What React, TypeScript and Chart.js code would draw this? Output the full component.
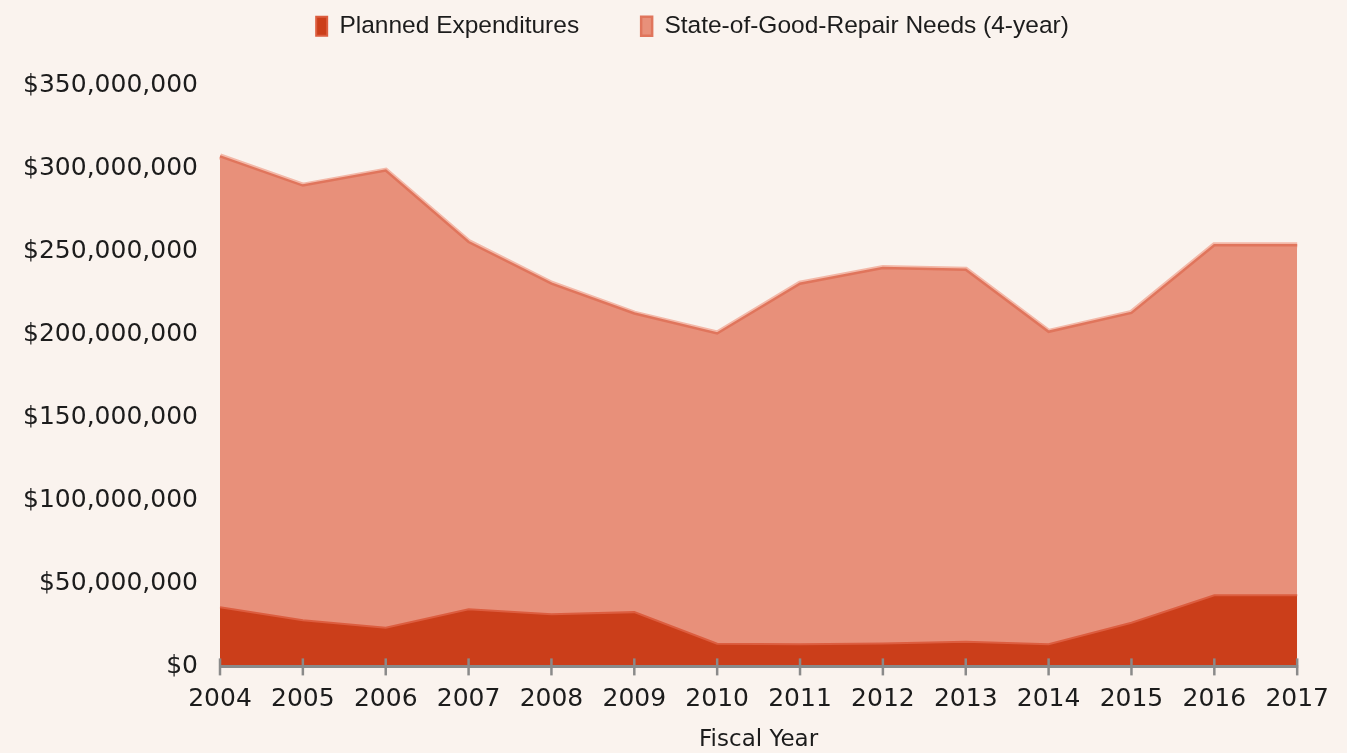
import React, { useEffect, useRef } from "react";
import { Chart, registerables } from "chart.js";

Chart.register(...registerables);

const years = ["2004", "2005", "2006", "2007", "2008", "2009", "2010", "2011", "2012", "2013", "2014", "2015", "2016", "2017"];
const plannedExpenditures = [35.7, 27.8, 23.3, 34.4, 31.4, 32.7, 13.7, 13.3, 13.8, 14.9, 13.3, 26.3, 42.8, 42.8].map((v) => v * 1e6);
const sogrNeeds = [307.3, 289.7, 298.7, 255.7, 230.6, 212.6, 200.6, 230.6, 240.0, 239.0, 201.6, 213.0, 253.7, 253.7].map((v) => v * 1e6);
const yTickMax = 350000000;
const yTickStep = 50000000;

const BG = "#faf3ee";
const TEXT = "#1c1c1c";

const axisPlugin = {
  id: "axisTicks",
  afterLayout(chart: any) {
    // shift the legend's box so it is centred like the original
    if (chart.legend) chart.legend.left = 80;
  },
  afterDatasetsDraw(chart: any) {
    const ctx = chart.ctx;
    const xs = chart.scales.x;
    const area = chart.chartArea;
    const y = area.bottom;
    ctx.save();
    ctx.strokeStyle = "#8a8a8a";
    ctx.lineWidth = 3;
    ctx.beginPath();
    ctx.moveTo(area.left, y);
    ctx.lineTo(area.right + 1, y);
    ctx.stroke();
    ctx.lineWidth = 2.5;
    xs.ticks.forEach((_t: any, i: number) => {
      const px = xs.getPixelForTick(i);
      ctx.beginPath();
      ctx.moveTo(px, y - 8);
      ctx.lineTo(px, y + 9);
      ctx.stroke();
    });
    ctx.restore();
  },
};

export default function App() {
  const ref = useRef<HTMLCanvasElement | null>(null);
  useEffect(() => {
    if (!ref.current) return;
    const chart = new Chart(ref.current, {
      type: "line",
      data: {
        labels: years,
        datasets: [
          {
            label: "Planned Expenditures",
            data: plannedExpenditures,
            backgroundColor: "#cb3e1a",
            borderColor: "#dc5d3f",
            borderWidth: 2,
            fill: "origin",
            pointRadius: 0,
            tension: 0,
          },
          {
            label: "State-of-Good-Repair Needs (4-year)",
            data: sogrNeeds,
            backgroundColor: "#e8907a",
            borderColor: "#e0755c",
            borderWidth: 2.5,
            fill: "origin",
            pointRadius: 0,
            tension: 0,
          },
          {
            label: "highlight",
            data: sogrNeeds,
            backgroundColor: "transparent",
            borderColor: "#f3b8a8",
            borderWidth: 6,
            fill: false,
            pointRadius: 0,
            tension: 0,
          },
        ],
      },
      options: {
        animation: false,
        responsive: true,
        maintainAspectRatio: false,
        layout: { padding: { top: -48, left: 0, right: 42, bottom: 0 } },
        plugins: {
          legend: {
            position: "top",
            labels: {
              boxWidth: 11,
              boxHeight: 19,
              padding: 62,
              color: TEXT,
              font: { family: "'Liberation Sans', Arial, sans-serif", size: 24.5 },
              filter: (item: any) => item.datasetIndex < 2,
            },
          },
          title: {
            display: true,
            text: "",
            weight: 500,
            padding: { top: 27, bottom: 0 },
            font: { size: 10, lineHeight: 1 },
          } as any,
          tooltip: { enabled: false },
        },
        scales: {
          x: {
            offset: false,
            grid: { display: false, drawTicks: false },
            border: { display: false },
            ticks: {
              color: TEXT,
              padding: 18,
              maxRotation: 0,
              autoSkip: false,
              font: { family: "'DejaVu Sans', sans-serif", size: 25 },
            },
            title: {
              display: true,
              text: "Fiscal Year",
              color: TEXT,
              padding: { top: -6, bottom: -1 },
              font: { family: "'DejaVu Sans', sans-serif", size: 23 },
            },
          },
          y: {
            min: 0,
            max: yTickMax,
            grid: { display: false, drawTicks: false },
            border: { display: false },
            afterFit(scale: any) {
              scale.width = 220;
            },
            ticks: {
              stepSize: yTickStep,
              color: TEXT,
              padding: 22,
              font: { family: "'DejaVu Sans', sans-serif", size: 25 },
              callback: (v: any) => "$" + Number(v).toLocaleString("en-US"),
            },
          },
        },
      },
      plugins: [axisPlugin],
    });
    return () => chart.destroy();
  }, []);
  return (
    <div style={{ position: "fixed", left: 0, top: 0, width: 1347, height: 753, background: BG }}>
      <canvas ref={ref} />
    </div>
  );
}
